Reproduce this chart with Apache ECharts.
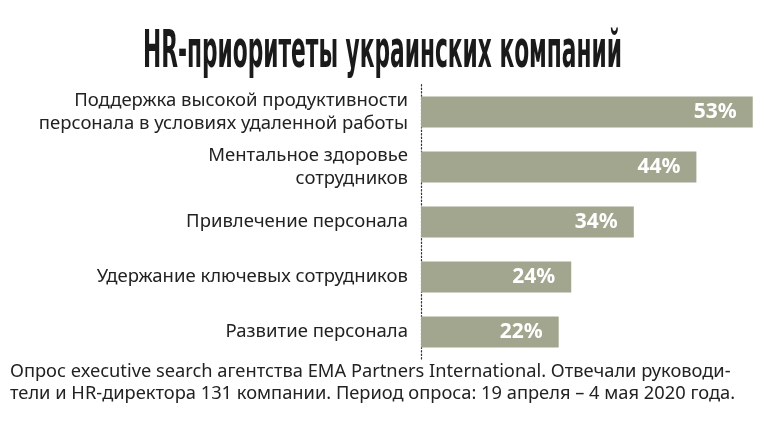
<!DOCTYPE html>
<html>
<head>
<meta charset="utf-8">
<script src="https://cdn.jsdelivr.net/npm/echarts@6/dist/echarts.min.js"></script>
<style>
  html, body { margin: 0; padding: 0; background: #fff; }
  #chart { width: 764px; height: 439px; }
</style>
</head>
<body>
<div id="chart"></div>
<script>
  // data
  const categories = [
    'Поддержка высокой продуктивности\nперсонала в условиях удаленной работы',
    'Ментальное здоровье\nсотрудников',
    'Привлечение персонала',
    'Удержание ключевых сотрудников',
    'Развитие персонала'
  ];
  const values = [53, 44, 34, 24, 22];

  const titleText = 'HR-приоритеты украинских компаний';
  const noteLines = [
    'Опрос executive search агентства EMA Partners International. Отвечали руководи-',
    'тели и HR-директора 131 компании. Период опроса: 19 апреля – 4 мая 2020 года.'
  ];

  // condensed title: measure and squeeze horizontally
  const titleFont = 'bold 52px "Liberation Sans Narrow", "DejaVu Sans Condensed", sans-serif';
  const measure = (font, text) => {
    const ctx = document.createElement('canvas').getContext('2d');
    ctx.font = font;
    return ctx.measureText(text).width;
  };
  const titleScale = 479 / measure(titleFont, titleText);

  const chart = echarts.init(document.getElementById('chart'));

  chart.setOption({
    animation: false,
    grid: {
      left: 421,
      right: 0,
      top: 84.5,
      height: 275,
      containLabel: false
    },
    xAxis: {
      type: 'value',
      min: 0,
      max: 54.8,
      show: false
    },
    yAxis: {
      type: 'category',
      inverse: true,
      data: categories,
      axisLine: {
        show: true,
        lineStyle: { color: '#333', type: [1.5, 2], width: 1.2 }
      },
      axisTick: { show: false },
      axisLabel: {
        margin: 13,
        color: '#222',
        fontFamily: 'Noto Sans',
        fontSize: 18.5,
        lineHeight: 23,
        align: 'right'
      }
    },
    series: [
      {
        type: 'bar',
        data: values,
        barWidth: 31,
        itemStyle: { color: '#a3a68f' },
        label: {
          show: true,
          position: 'insideRight',
          distance: 16,
          formatter: '{c}%',
          color: '#fff',
          fontFamily: 'Noto Sans',
          fontWeight: 'bold',
          fontSize: 21
        }
      }
    ],
    graphic: [
      {
        type: 'text',
        x: 143,
        y: 53,
        scaleX: titleScale,
        style: {
          text: titleText,
          font: titleFont,
          fill: '#1a1a1a',
          textVerticalAlign: 'middle'
        }
      },
      {
        type: 'text',
        x: 10,
        y: 361,
        style: {
          text: noteLines.join('\n'),
          fontFamily: 'Noto Sans',
          fontSize: 18.3,
          lineHeight: 22,
          fill: '#222'
        }
      }
    ]
  });
</script>
</body>
</html>
